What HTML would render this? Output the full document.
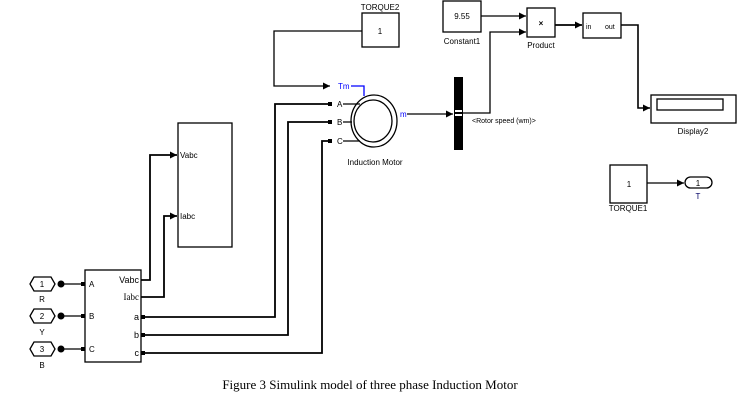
<!DOCTYPE html>
<html><head><meta charset="utf-8"><style>
body{margin:0;background:#fff}
svg{display:block}
text{font-family:"Liberation Sans",sans-serif;font-size:8px;fill:#000}
</style></head><body>
<svg width="740" height="404" viewBox="0 0 740 404" xmlns="http://www.w3.org/2000/svg">
<defs><marker id="a" markerWidth="8" markerHeight="8" refX="7" refY="4" orient="auto" markerUnits="userSpaceOnUse"><path d="M0,0.5 L7,4 L0,7.5z" fill="#000"/></marker></defs>
<g fill="none" stroke="#000" stroke-width="1.3">
<!-- TORQUE2 -->
<rect x="362" y="13" width="37" height="34"/>
<path d="M362,31 H274 V86 H330" marker-end="url(#a)"/>
<path d="M351,86 H364 V96" stroke="#00f"/>
<!-- motor -->
<ellipse cx="374" cy="121" rx="23" ry="26"/>
<ellipse cx="373" cy="121" rx="19" ry="21"/>
<path d="M343,104 H360 M343,122 H352 M343,141 H360"/>
<path d="M407,114 H453" marker-end="url(#a)"/>
<!-- constant / product -->
<rect x="443" y="1" width="38" height="31"/>
<path d="M481,16 H526" marker-end="url(#a)"/>
<path d="M463,113 H490 V32 H526" marker-end="url(#a)"/>
<rect x="527" y="8" width="28" height="29"/>
<path d="M555,25 H582" marker-end="url(#a)" stroke-width="1.8"/>
<rect x="583" y="13" width="38" height="25"/>
<path d="M621,25 H638 V108 H650" marker-end="url(#a)" stroke-width="1.6"/>
<rect x="651" y="95" width="85" height="28"/>
<rect x="657" y="99" width="66" height="11"/>
<!-- torque1 -->
<rect x="610" y="165" width="37" height="38"/>
<path d="M647,183 H684" marker-end="url(#a)"/>
<rect x="685" y="177" width="27" height="11" rx="5.5"/>
<!-- scope -->
<rect x="178" y="123" width="54" height="124"/>
<path d="M141,280 H150 V155 H177" marker-end="url(#a)" stroke-width="1.8"/>
<path d="M141,297 H164 V216 H177" marker-end="url(#a)" stroke-width="1.8"/>
<!-- measurement -->
<rect x="85" y="270" width="56" height="92"/>
<path d="M143,317 H275 V104 H330" stroke-width="1.8"/>
<path d="M143,335 H288 V122 H330" stroke-width="1.8"/>
<path d="M143,353 H322 V141 H330" stroke-width="1.8"/>
<path d="M61,284 H83 M61,316 H83 M61,349 H83"/>
<path d="M30,284 l4,-7 h17 l4,7 l-4,7 h-17z M30,316 l4,-7 h17 l4,7 l-4,7 h-17z M30,349 l4,-7 h17 l4,7 l-4,7 h-17z"/>
</g>
<g fill="#000">
<rect x="454" y="77" width="9" height="73"/>
<rect x="455" y="110" width="7" height="2" fill="#fff"/><rect x="455" y="114" width="7" height="2" fill="#fff"/>
<rect x="328" y="102" width="4" height="4"/><rect x="328" y="120" width="4" height="4"/><rect x="328" y="139" width="4" height="4"/>
<rect x="81" y="282" width="4" height="4"/><rect x="81" y="314" width="4" height="4"/><rect x="81" y="347" width="4" height="4"/>
<rect x="141" y="315" width="4" height="4"/><rect x="141" y="333" width="4" height="4"/><rect x="141" y="351" width="4" height="4"/>
<circle cx="61" cy="284" r="3.5"/><circle cx="61" cy="316" r="3.5"/><circle cx="61" cy="349" r="3.5"/>
</g>
<text x="380" y="10" text-anchor="middle">TORQUE2</text>
<text x="380" y="34" text-anchor="middle">1</text>
<text x="338" y="89" style="fill:#00f">Tm</text>
<text x="337" y="107">A</text><text x="337" y="125">B</text><text x="337" y="144">C</text>
<text x="400" y="117" style="fill:#00f">m</text>
<text x="375" y="165" text-anchor="middle">Induction Motor</text>
<text x="472" y="123" style="font-size:7px">&lt;Rotor speed (wm)&gt;</text>
<text x="462" y="19" text-anchor="middle">9.55</text>
<text x="462" y="44" text-anchor="middle">Constant1</text>
<text x="541" y="26" text-anchor="middle" style="font-weight:bold">×</text>
<text x="541" y="48" text-anchor="middle">Product</text>
<text x="586" y="29" style="font-size:7px">in</text><text x="605" y="29" style="font-size:7px">out</text>
<text x="693" y="134" text-anchor="middle">Display2</text>
<text x="629" y="187" text-anchor="middle">1</text>
<text x="628" y="211" text-anchor="middle">TORQUE1</text>
<text x="698" y="186" text-anchor="middle">1</text>
<text x="698" y="199" text-anchor="middle" style="fill:#006">T</text>
<text x="180" y="158">Vabc</text><text x="180" y="219">Iabc</text>
<text x="89" y="287">A</text><text x="89" y="319">B</text><text x="89" y="352">C</text>
<text x="139" y="283" text-anchor="end" style="font-size:9px">Vabc</text>
<text x="139" y="300" text-anchor="end" style="font-size:9px;font-family:'Liberation Serif',serif">Iabc</text>
<text x="139" y="320" text-anchor="end" style="font-size:9px">a</text>
<text x="139" y="338" text-anchor="end" style="font-size:9px">b</text>
<text x="139" y="356" text-anchor="end" style="font-size:9px">c</text>
<text x="42" y="287" text-anchor="middle">1</text><text x="42" y="319" text-anchor="middle">2</text><text x="42" y="352" text-anchor="middle">3</text>
<text x="42" y="302" text-anchor="middle">R</text><text x="42" y="335" text-anchor="middle">Y</text><text x="42" y="368" text-anchor="middle">B</text>
<text x="370" y="389" text-anchor="middle" style="font-family:'Liberation Serif',serif;font-size:13px">Figure 3 Simulink model of three phase Induction Motor</text>
</svg>
</body></html>
